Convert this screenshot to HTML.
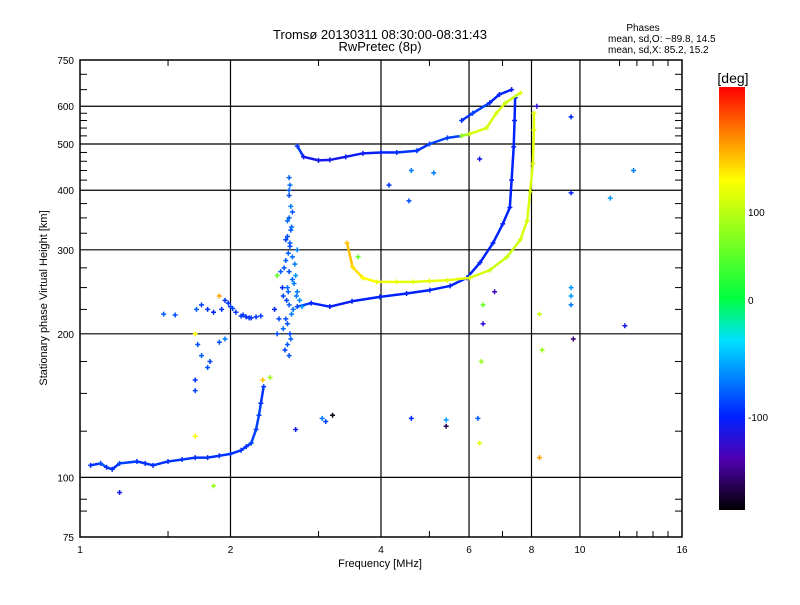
<!DOCTYPE html>
<html><head><meta charset="utf-8">
<style>
html,body{margin:0;padding:0;background:#fff;}
body{width:800px;height:600px;overflow:hidden;font-family:"Liberation Sans",sans-serif;}
svg text{font-family:"Liberation Sans",sans-serif;fill:#000;}
</style></head>
<body>
<svg id="chart" width="800" height="600" viewBox="0 0 800 600" xmlns="http://www.w3.org/2000/svg">
<defs>
<linearGradient id="cbar" x1="0" y1="0" x2="0" y2="1">
<stop offset="0" stop-color="#ff0000"/><stop offset="0.12" stop-color="#ff8c00"/>
<stop offset="0.22" stop-color="#ffff00"/><stop offset="0.5" stop-color="#00ff40"/>
<stop offset="0.6" stop-color="#00e0ff"/><stop offset="0.78" stop-color="#0020ff"/>
<stop offset="0.88" stop-color="#5000b0"/><stop offset="1" stop-color="#000000"/>
</linearGradient>
</defs>
<text x="380" y="39" font-size="13" text-anchor="middle">Tromsø 20130311 08:30:00-08:31:43</text>
<text x="380" y="51" font-size="13" text-anchor="middle">RwPretec (8p)</text>
<text x="643" y="31" font-size="10" text-anchor="middle">Phases</text>
<text x="608" y="42" font-size="10">mean, sd,O: −89.8, 14.5</text>
<text x="608" y="53" font-size="10">mean, sd,X:  85.2, 15.2</text>
<g id="grid"></g>
<g id="marks"></g>
<rect x="80" y="60" width="602" height="477" fill="none" stroke="#000" stroke-width="1.5"/>
<g id="axes"></g>
<text x="380" y="567" font-size="11" text-anchor="middle">Frequency [MHz]</text>
<text transform="translate(47,298) rotate(-90)" font-size="11" text-anchor="middle">Stationary phase Virtual Height [km]</text>
<rect x="719" y="87" width="26" height="423" fill="url(#cbar)"/>
<text x="733" y="83" font-size="14" text-anchor="middle">[deg]</text>
<text x="748" y="216" font-size="10">100</text>
<text x="748" y="304" font-size="10">0</text>
<text x="748" y="421" font-size="10">-100</text>
</svg>
<script>
const xTicks=[1,2,4,6,8,10,16];
const xTickLabels=["1","2","4","6","8","10","16"];
const yTicks=[75,100,200,300,400,500,600,750];
const yTickLabels=["75","100","200","300","400","500","600","750"];
const yMinor=[85,90,125,150,175,225,250,275,325,350,375,420,440,460,480,520,540,560,580,650,700];
const xMinor=[1.5,3,5,7,12,13,14,15];
const lowF=[1.05,1.1,1.13,1.16,1.2,1.3,1.35,1.4,1.5,1.6,1.7,1.8,1.9,2.0,2.1,2.15,2.2,2.25,2.28,2.3,2.33];
const lowH=[106,107,105,104,107,108,107,106,108,109,110,110,111,112,114,116,118,126,135,143,155];
const lowP=[-95,-85,-95,-95,-90,-95,-95,-95,-95,-95,-95,-95,-95,-95,-95,-95,-90,-90,-90,-95,-90];
const oF=[2.72,2.9,3.16,3.5,3.98,4.5,5.01,5.5,5.94,6.31,6.7,7.01,7.24,7.3,7.37,7.4,7.42];
const oH=[228,232,228,234,239,243,247,252,262,282,310,340,368,420,493,560,625];
const oP=[-90,-100,-105,-100,-100,-100,-100,-100,-100,-100,-100,-100,-100,-100,-100,-100,-100];
const xF=[3.42,3.51,3.68,3.92,4.3,4.64,5.0,5.43,6.02,6.6,7.15,7.6,7.84,7.95,8.05,8.09,8.09];
const xH=[310,276,262,257,257,257,258,259,262,272,290,315,345,397,455,535,580];
const xP=[120,110,100,95,90,90,90,90,85,80,80,85,85,85,90,90,90];
const topF=[2.72,2.8,3.0,3.16,3.4,3.68,4.0,4.3,4.72,5.0,5.43,5.8,6.02,6.5,6.8,7.1,7.6];
const topH=[495,470,462,463,470,478,480,480,484,500,515,520,525,540,580,610,640];
const topP=[-95,-110,-110,-110,-105,-105,-100,-95,-95,-90,-90,60,85,85,85,80,90];
const top2F=[5.8,6.1,6.6,6.9,7.3];
const top2H=[560,580,610,635,650];
const top2P=[-95,-90,-100,-100,-110];
const sF=[2.62,2.6,2.63,2.55,2.58,2.65,2.62,2.55,2.6,2.68,2.7,2.62,2.58,2.66,2.72,2.63,2.6,2.65,2.62,2.64,2.62,2.63,2.62,2.72,2.75,2.78,2.5,2.48,2.45,2.52,
 2.57,2.64,2.6,2.67,2.59,2.61,2.66,2.56,2.69,2.61,2.63,2.58,2.64,2.6,2.66,2.54,2.71,2.62,
 1.92,1.95,2.0,2.05,2.1,2.15,2.2,2.25,2.3,1.85,1.8,1.75,1.71,1.47,1.55,1.72,1.75,1.8,1.82,1.9,1.95,1.7,1.7,1.98,2.02,2.12,2.18];
const sH=[180,190,200,205,215,220,230,240,250,255,265,270,285,290,300,310,320,335,350,370,390,410,425,245,235,228,215,200,225,270,
 185,195,210,225,235,245,260,275,280,295,305,315,330,345,360,250,240,400,
 225,235,228,222,218,217,216,217,218,222,225,230,225,220,219,190,180,170,175,192,195,160,152,232,226,219,216];
const sP=[-85,-80,-90,-75,-85,-70,-80,-90,-75,-70,-60,-85,-80,-75,-70,-80,-85,-75,-80,-70,-85,-75,-80,-70,-65,-60,-90,-85,-100,-80,
 -90,-80,-85,-75,-90,-80,-75,-85,-70,-80,-85,-90,-80,-75,-85,-95,-70,-80,
 -95,-95,-90,-95,-95,-95,-95,-95,-90,-100,-95,-90,-80,-80,-85,-85,-80,-85,-90,-85,-70,-95,-90,-95,-90,-95,-95];
const rF=[1.2,1.85,1.7,1.7,2.32,2.4,3.2,3.1,3.05,2.7,4.6,5.4,5.4,6.25,6.3,8.3,6.35,8.4,9.7,9.6,9.6,9.6,8.3,12.3,11.5,12.8,9.6,9.6,6.3,4.55,4.6,5.1,4.15,2.48,1.9,3.6,8.2,6.4,6.4,6.75];
const rH=[93,96,200,122,160,162,135,131,133,126,133,128,132,133,118,110,175,185,195,240,230,250,220,208,385,440,395,570,465,380,440,435,410,265,240,290,600,210,230,245];
const rP=[-110,60,100,100,120,60,-175,-90,-70,-110,-100,-160,-60,-80,90,130,60,60,-150,-60,-70,-60,80,-110,-60,-70,-100,-100,-110,-85,-70,-70,-95,40,130,40,-120,-120,40,-130];

const X0=80,X1=682,Y0=537,Y1=60;
function xs(f){return X0+(X1-X0)*Math.log2(f)/4;}
function ys(h){return Y0-(Y0-Y1)*Math.log10(h/75);}
const stops=[[0,[255,0,0]],[0.12,[255,140,0]],[0.22,[255,255,0]],[0.5,[0,255,64]],[0.6,[0,224,255]],[0.78,[0,32,255]],[0.88,[80,0,176]],[1,[0,0,0]]];
function col(p){let t=(180-p)/360;t=Math.max(0,Math.min(1,t));
 for(let i=0;i<stops.length-1;i++){const a=stops[i],b=stops[i+1];if(t<=b[0]){const u=(t-a[0])/(b[0]-a[0]);
 const c=a[1].map((v,k)=>Math.round(v+(b[1][k]-v)*u));return `rgb(${c[0]},${c[1]},${c[2]})`;}}return '#000';}
const NS='http://www.w3.org/2000/svg';
function mk(tag,attrs,parent){const e=document.createElementNS(NS,tag);for(const k in attrs)e.setAttribute(k,attrs[k]);parent.appendChild(e);return e;}
const grid=document.getElementById('grid'),axes=document.getElementById('axes'),marks=document.getElementById('marks');
xTicks.forEach((f,i)=>{const x=xs(f);
 if(i>0&&i<xTicks.length-1){const l=mk('line',{x1:x,x2:x,y1:Y1,y2:Y0,stroke:'#000','stroke-width':1.2},grid);
 
 }
 const t=mk('text',{x:x,y:553,'font-size':10,'text-anchor':'middle'},axes);t.textContent=xTickLabels[i];
 
 });
xMinor.forEach(f=>{const x=xs(f);
 const a=mk('line',{x1:x,x2:x,y1:Y0,y2:Y0-6,stroke:'#000'},axes);
 
 
 const b=mk('line',{x1:x,x2:x,y1:Y1,y2:Y1+6,stroke:'#000'},axes);
 
 });
yTicks.forEach((h,i)=>{const y=ys(h);
 if(i>0&&i<yTicks.length-1){const l=mk('line',{x1:X0,x2:X1,y1:y,y2:y,stroke:'#000','stroke-width':1.2},grid);
 
 }
 const t=mk('text',{x:74,y:y+4,'font-size':10,'text-anchor':'end'},axes);t.textContent=yTickLabels[i];
 
 });
yMinor.forEach(h=>{const y=ys(h);
 const a=mk('line',{x1:X0,x2:X0+7,y1:y,y2:y,stroke:'#000'},axes);
 
 
 const b=mk('line',{x1:X1,x2:X1-7,y1:y,y2:y,stroke:'#000'},axes);
 
 });
function trace(F,H,P,name,line){
 if(line){for(let i=0;i<F.length-1;i++){const l=mk('line',{x1:xs(F[i]),y1:ys(H[i]),x2:xs(F[i+1]),y2:ys(H[i+1]),stroke:col(P[i]),'stroke-width':2.5},marks);
  
  }}
 F.forEach((f,i)=>{const x=xs(f),y=ys(H[i]);
  const p=mk('path',{d:`M${x-2.5} ${y}h5M${x} ${y-2.5}v5`,stroke:col(P[i]),'stroke-width':1.5},marks);
  
  });}
trace(lowF,lowH,lowP,'e-layer-trace',true);
trace(oF,oH,oP,'o-mode-trace',true);
trace(xF,xH,xP,'x-mode-trace',true);
trace(topF,topH,topP,'upper-trace',true);
trace(top2F,top2H,top2P,'upper-trace-2',true);
trace(sF,sH,sP,'scatter',false);
trace(rF,rH,rP,'stray',false);
</script>
</body></html>
